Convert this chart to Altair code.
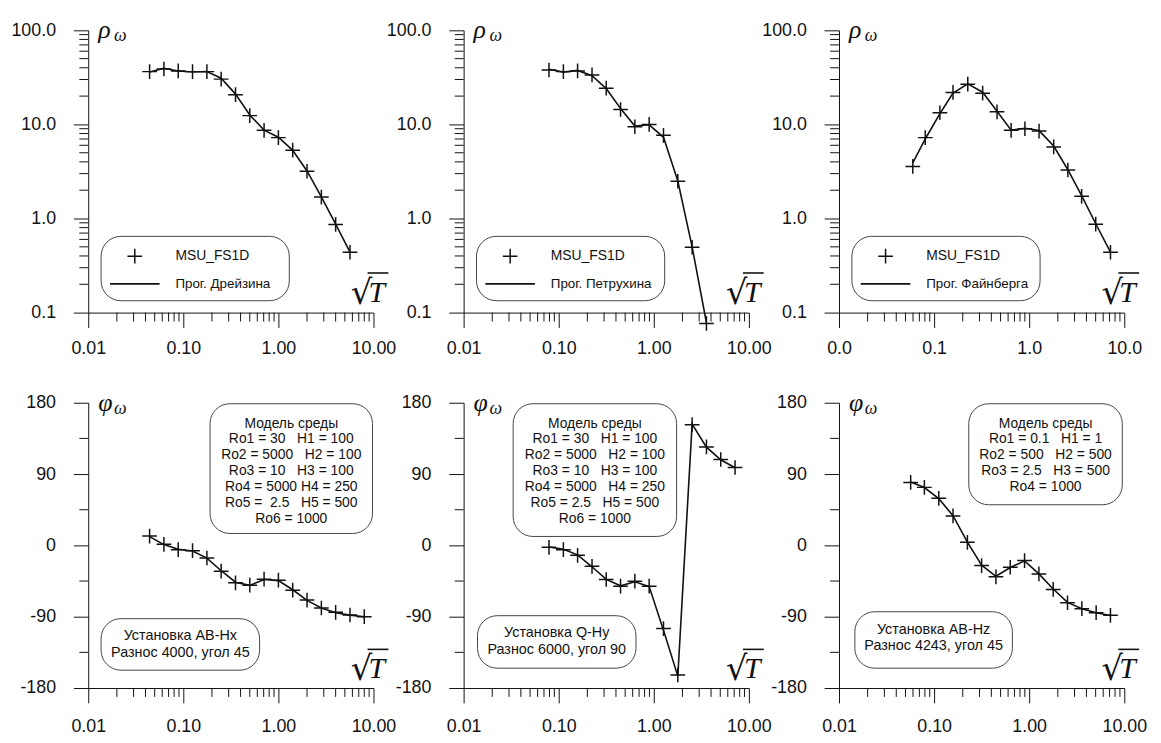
import altair as alt
import pandas as pd

FONT = "Liberation Sans"
SERIF = "Liberation Serif"
INK = "#111111"
BOXC = "#444444"

# ---------------- data ----------------
X1 = [0.0442, 0.0625, 0.0884, 0.125, 0.177, 0.25, 0.354, 0.5, 0.707, 1.0, 1.414, 2.0, 2.83, 4.0, 5.66]
RHO1_PTS = [36.4, 38.8, 37.0, 36.4, 36.4, 30.3, 20.7, 12.4, 8.65, 7.24, 5.33, 3.18, 1.69, 0.865, 0.438]
RHO1_LINE = [36.0, 39.5, 37.0, 36.0, 36.5, 31.0, 21.0, 12.6, 8.7, 7.3, 5.3, 3.2, 1.7, 0.87, 0.44]

X2 = [0.079, 0.112, 0.158, 0.224, 0.316, 0.447, 0.632, 0.894, 1.265, 1.789, 2.53, 3.578]
RHO2_PTS = [37.9, 36.4, 37.0, 33.6, 24.3, 14.4, 9.44, 10.0, 7.66, 2.49, 0.495, 0.0766]
RHO2_LINE = [38.5, 36.0, 37.5, 33.0, 24.0, 14.8, 9.6, 9.9, 7.3, 2.5, 0.5, 0.078]

X3 = [0.0597, 0.0807, 0.115, 0.158, 0.226, 0.324, 0.459, 0.646, 0.902, 1.27, 1.81, 2.55, 3.56, 5.01, 7.16]
RHO3_PTS = [3.58, 7.24, 13.3, 21.9, 26.8, 21.5, 13.6, 8.65, 9.0, 8.5, 5.77, 3.28, 1.72, 0.871, 0.438]
RHO3_LINE = [3.9, 7.0, 13.0, 21.5, 27.0, 22.0, 13.8, 8.7, 9.1, 8.6, 5.9, 3.3, 1.75, 0.88, 0.44]

X4 = [0.0442, 0.0625, 0.0884, 0.125, 0.177, 0.25, 0.354, 0.5, 0.707, 1.0, 1.414, 2.0, 2.83, 4.0, 5.66, 8.0]
PHI4_PTS = [11.7, 1.3, -5.4, -6.7, -15.9, -32.6, -47.3, -50.2, -42.7, -43.9, -56.5, -69.0, -79.0, -84.5, -87.9, -90.0]
PHI4_LINE = [11.0, 1.0, -5.0, -7.0, -16.0, -32.0, -46.5, -50.5, -43.0, -44.5, -56.0, -69.5, -79.0, -85.0, -88.0, -90.0]

X5 = [0.079, 0.112, 0.158, 0.224, 0.316, 0.447, 0.632, 0.894, 1.265, 1.789, 2.53, 3.578, 5.06, 7.155]
PHI5_PTS = [-2.5, -5.4, -12.6, -26.4, -43.1, -51.5, -45.2, -51.5, -105.0, -163.6, 152.3, 124.3, 108.4, 98.3]
PHI5_LINE = [-2.0, -5.0, -12.0, -27.0, -43.0, -51.0, -46.0, -52.0, -107.0, -165.0, 153.0, 124.0, 108.0, 98.0]

X6 = [0.0567, 0.079, 0.112, 0.158, 0.224, 0.316, 0.447, 0.632, 0.894, 1.265, 1.789, 2.53, 3.578, 5.06, 7.155]
PHI6_PTS = [79.5, 73.2, 59.4, 37.2, 3.8, -25.5, -39.7, -27.6, -19.2, -36.0, -55.6, -72.4, -79.9, -84.9, -88.3]
PHI6_LINE = [80.0, 73.0, 59.0, 37.5, 4.0, -25.0, -39.0, -28.0, -19.5, -36.0, -55.0, -72.0, -80.0, -85.0, -88.5]

X_MAJOR = [0.01, 0.1, 1, 10]
X_MINOR = [0.02, 0.03, 0.04, 0.05, 0.06, 0.07, 0.08, 0.09,
           0.2, 0.3, 0.4, 0.5, 0.6, 0.7, 0.8, 0.9,
           2, 3, 4, 5, 6, 7, 8, 9]
RHO_MAJOR = [0.1, 1, 10, 100]
RHO_MINOR = [0.2, 0.3, 0.4, 0.5, 0.6, 0.7, 0.8, 0.9,
             2, 3, 4, 5, 6, 7, 8, 9,
             20, 30, 40, 50, 60, 70, 80, 90]
PHI_MAJOR = [-180, -90, 0, 90, 180]
PHI_MINOR = [-135, -45, 45, 135]

LEGEND_PTS = "MSU_FS1D"
LEGEND_LINES = ["Прог. Дрейзина", "Прог. Петрухина", "Прог. Файнберга"]

NB = "\u00a0"
MODEL4 = ["Модель среды", f"Ro1 = 30{NB*2} H1 = 100", f"Ro2 = 5000{NB*2} H2 = 100",
          f"Ro3 = 10{NB*2} H3 = 100", "Ro4 = 5000 H4 = 250", f"Ro5 ={NB} 2.5{NB*2} H5 = 500",
          f"Ro6 = 1000{NB*5}"]
MODEL5 = ["Модель среды", f"Ro1 = 30{NB*2} H1 = 100", f"Ro2 = 5000{NB*2} H2 = 100",
          f"Ro3 = 10{NB*2} H3 = 100", f"Ro4 = 5000{NB*2} H4 = 250", f"Ro5 = 2.5{NB*2} H5 = 500",
          "Ro6 = 1000"]
MODEL6 = ["Модель среды", f"Ro1 = 0.1{NB*2} H1 = 1", f"Ro2 = 500{NB*2} H2 = 500",
          f"Ro3 = 2.5{NB*2} H3 = 500", "Ro4 = 1000"]
INSTALL4 = ["Установка AB-Hx", "Разнос 4000, угол 45"]
INSTALL5 = ["Установка Q-Hy", "Разнос 6000, угол 90"]
INSTALL6 = ["Установка AB-Hz", "Разнос 4243, угол 45"]

W = 288
H_TOP = 285
H_BOT = 288
PLUS = "M-1,0L1,0M0,-1L0,1"
ONE = pd.DataFrame({"k": [0]})


def xscale():
    return alt.Scale(type="log", domain=[0.01, 10], nice=False)


def panel(xs, ypts, xl, yline, top, xfmt, legend_line=None, model=None, model_box=None,
          install=None, install_box=None):
    H = H_TOP if top else H_BOT
    if top:
        ysc = alt.Scale(type="log", domain=[0.1, 100], nice=False)
        yaxis = alt.Axis(values=RHO_MAJOR, format=".1f", title=None, tickSize=15,
                         labelPadding=18, grid=False, labelFlush=False)
        yminor = RHO_MINOR
    else:
        ysc = alt.Scale(type="linear", domain=[-180, 180], nice=False, zero=False)
        yaxis = alt.Axis(values=PHI_MAJOR, labelExpr="'' + datum.value", title=None,
                         tickSize=15, labelPadding=18, grid=False, labelFlush=False)
        yminor = PHI_MINOR
    xaxis = alt.Axis(values=X_MAJOR, format=xfmt, title=None, tickSize=15,
                     labelPadding=12 if top else 15, grid=False, labelFlush=False)

    pts = pd.DataFrame({"x": xs, "y": ypts})
    lin = pd.DataFrame({"x": xl, "y": yline})

    layers = []
    line = alt.Chart(lin).mark_line(color=INK, strokeWidth=1.6).encode(
        x=alt.X("x:Q", scale=xscale(), axis=xaxis),
        y=alt.Y("y:Q", scale=ysc, axis=yaxis))
    points = alt.Chart(pts).mark_point(shape=PLUS, size=220, strokeWidth=1.5, color=INK,
                                       opacity=1).encode(
        x=alt.X("x:Q", scale=xscale(), axis=xaxis),
        y=alt.Y("y:Q", scale=ysc, axis=yaxis))
    layers += [line, points]
    # minor ticks, drawn through the scales
    layers.append(alt.Chart(pd.DataFrame({"x": X_MINOR})).mark_rule(color=INK, strokeWidth=1).encode(
        x=alt.X("x:Q", scale=xscale(), axis=xaxis), y=alt.value(H), y2=alt.value(H + 9)))
    layers.append(alt.Chart(pd.DataFrame({"y": yminor})).mark_rule(color=INK, strokeWidth=1).encode(
        y=alt.Y("y:Q", scale=ysc, axis=yaxis), x=alt.value(-9), x2=alt.value(0)))

    def txt(s, x, y, size=14, align="center", font=FONT, style="normal", baseline="middle", lh=16):
        return alt.Chart(ONE).mark_text(font=font, fontSize=size, align=align, baseline=baseline,
                                        fontStyle=style, color=INK, lineHeight=lh).encode(
            x=alt.value(x), y=alt.value(y), text=alt.value(s))

    def box(x1, x2, y1, y2):
        return alt.Chart(ONE).mark_rect(cornerRadius=20, fillOpacity=0, stroke=BOXC,
                                        strokeWidth=1).encode(
            x=alt.value(x1), x2=alt.value(x2), y=alt.value(y1), y2=alt.value(y2))

    if legend_line is not None:
        layers.append(box(13, 203, 208, 273))
        layers.append(alt.Chart(ONE).mark_point(shape=PLUS, size=220, strokeWidth=1.5, color=INK,
                                                opacity=1).encode(
            x=alt.value(47), y=alt.value(228)))
        layers.append(alt.Chart(ONE).mark_rule(color=INK, strokeWidth=1.6).encode(
            x=alt.value(22), x2=alt.value(72), y=alt.value(256)))
        layers.append(txt(LEGEND_PTS, 88, 228, size=14, align="left"))
        layers.append(txt(legend_line, 88, 256, size=13.5, align="left"))

    if model is not None:
        bx1, bx2, by1, by2 = model_box
        layers.append(box(bx1, bx2, by1, by2))
        layers.append(txt(model, (bx1 + bx2) / 2, by1 + 13, size=14, baseline="top", lh=16))
    if install is not None:
        bx1, bx2, by1, by2 = install_box
        layers.append(box(bx1, bx2, by1, by2))
        layers.append(txt(install, (bx1 + bx2) / 2, by1 + 11, size=14.5, baseline="top", lh=17))

    # axis symbols
    sym = "ρ" if top else "φ"
    layers.append(txt(sym, 10, 8, size=26, align="left", font=SERIF, style="italic",
                      baseline="alphabetic"))
    layers.append(txt("ω", 26, 11, size=18, align="left", font=SERIF, style="italic",
                      baseline="alphabetic"))
    ry = H - 41 if top else H - 40
    layers.append(txt("√", 265, ry + 32, size=34, align="left", font="DejaVu Serif",
                      baseline="alphabetic"))
    layers.append(txt("T", 283, ry + 30, size=30, align="left", font=SERIF, style="italic",
                      baseline="alphabetic"))
    layers.append(alt.Chart(ONE).mark_rule(color=INK, strokeWidth=1.6).encode(
        x=alt.value(282), x2=alt.value(303), y=alt.value(ry + 1)))

    return alt.layer(*layers).properties(width=W, height=H)


p1 = panel(X1, RHO1_PTS, X1, RHO1_LINE, True, ".2f", legend_line=LEGEND_LINES[0])
p2 = panel(X2, RHO2_PTS, X2, RHO2_LINE, True, ".2f", legend_line=LEGEND_LINES[1])
p3 = panel(X3, RHO3_PTS, X3, RHO3_LINE, True, ".1f", legend_line=LEGEND_LINES[2])
p4 = panel(X4, PHI4_PTS, X4, PHI4_LINE, False, ".2f", model=MODEL4, model_box=(123, 287, 1, 132),
           install=INSTALL4, install_box=(13, 173, 218, 270))
p5 = panel(X5, PHI5_PTS, X5, PHI5_LINE, False, ".2f", model=MODEL5, model_box=(50, 215, 1, 135),
           install=INSTALL5, install_box=(14, 174, 215, 268))
p6 = panel(X6, PHI6_PTS, X6, PHI6_LINE, False, ".2f", model=MODEL6, model_box=(131, 286, 1, 103),
           install=INSTALL6, install_box=(16, 175, 211, 268))

chart = alt.concat(p1, p2, p3, p4, p5, p6, columns=3, spacing={"row": 91, "column": 91},
                   bounds="flush").properties(
    padding={"left": 2, "top": 5, "right": 5, "bottom": 5}
).configure_view(stroke="transparent").configure_axis(
    grid=False, domainColor=INK, tickColor=INK, labelColor=INK, labelFont=FONT,
    labelFontSize=18, domainWidth=1, tickWidth=1
)

chart.save("out.html", embed_options={"renderer": "svg", "actions": False})
